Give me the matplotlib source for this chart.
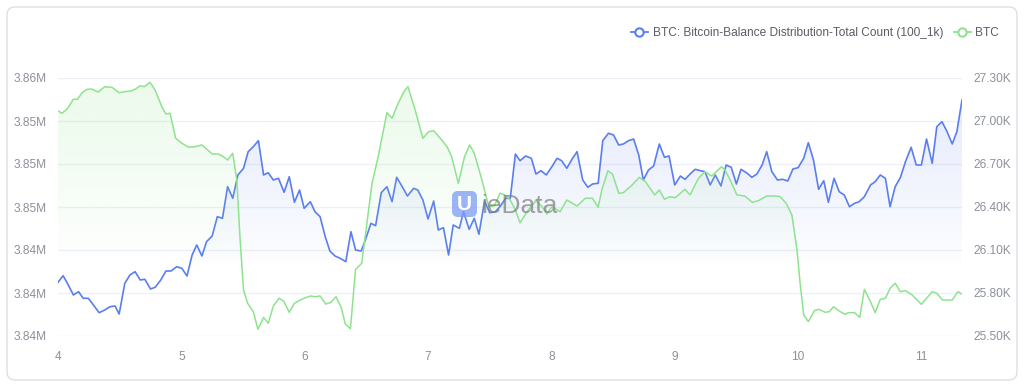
import numpy as np
import matplotlib.pyplot as plt
import matplotlib.colors as mcolors
from matplotlib.patches import FancyBboxPatch, Polygon
from matplotlib.lines import Line2D
from matplotlib.transforms import IdentityTransform

plt.rcParams['font.family'] = ['Liberation Sans', 'DejaVu Sans']

# hours after day 4 00:00
green_hours = [0.0, 0.8, 1.9, 3.0, 3.8, 4.7, 5.6, 6.6, 7.8, 9.1,
               10.5, 11.9, 13.0, 14.2, 15.0, 16.0, 16.8, 17.9, 18.9, 20.2,
               21.0, 21.8, 22.9, 24.1, 25.4, 26.7, 28.0, 30.0, 31.1, 32.0,
               33.0, 34.0, 34.8, 35.4, 36.1, 36.9, 38.0, 38.9, 40.0, 40.9,
               41.9, 43.0, 43.9, 45.0, 46.0, 47.4, 49.1, 50.0, 51.0, 52.1,
               53.1, 54.1, 55.1, 55.9, 56.9, 57.9, 59.1, 60.1, 61.1, 62.3,
               64.0, 65.0, 66.2, 67.4, 68.1, 69.5, 71.0, 72.1, 73.1, 74.4,
               75.7, 76.6, 77.9, 79.1, 80.1, 81.0, 82.5, 83.8, 84.9, 86.0,
               87.0, 88.0, 89.0, 89.9, 91.5, 93.0, 94.2, 95.1, 96.1, 97.7,
               99.0, 101.0, 102.6, 104.0, 105.1, 105.9, 107.0, 107.9, 109.1, 110.0,
               111.7, 113.1, 114.3, 116.1, 117.0, 118.0, 119.1, 120.1, 122.0, 123.0,
               124.6, 125.9, 127.2, 129.1, 129.8, 130.8, 132.1, 133.6, 135.1, 136.3,
               137.9, 139.6, 140.5, 141.7, 142.8, 143.8, 144.4, 145.1, 146.0, 147.2,
               148.0, 149.3, 150.1, 150.9, 151.9, 153.1, 153.8, 155.0, 156.0, 156.9,
               158.1, 159.0, 160.0, 161.0, 161.9, 162.9, 163.9, 164.9, 166.2, 168.0,
               170.1, 171.0, 172.1, 174.0, 175.1, 175.9]
btc_price = [27070, 27054, 27089, 27152, 27152, 27198, 27221, 27223, 27202, 27239,
             27235, 27198, 27205, 27209, 27221, 27246, 27239, 27270, 27216, 27100,
             27049, 27054, 26879, 26845, 26817, 26821, 26833, 26770, 26770, 26756,
             26728, 26775, 26588, 26193, 25821, 25728, 25670, 25547, 25630, 25589,
             25709, 25763, 25744, 25665, 25728, 25756, 25779, 25774, 25779, 25723,
             25735, 25774, 25700, 25584, 25551, 25965, 26007, 26286, 26565, 26751,
             27058, 27019, 27124, 27211, 27239, 27077, 26879, 26925, 26932, 26879,
             26821, 26751, 26565, 26751, 26833, 26775, 26588, 26402, 26407, 26496,
             26484, 26449, 26379, 26290, 26379, 26444, 26402, 26351, 26402, 26367,
             26449, 26407, 26461, 26461, 26398, 26530, 26653, 26630, 26496, 26500,
             26553, 26607, 26577, 26484, 26519, 26454, 26472, 26465, 26524, 26484,
             26600, 26646, 26616, 26681, 26658, 26588, 26484, 26477, 26433, 26444,
             26477, 26477, 26472, 26426, 26344, 26100, 25868, 25647, 25600, 25677,
             25686, 25665, 25670, 25704, 25677, 25651, 25663, 25663, 25630, 25826,
             25739, 25663, 25756, 25763, 25833, 25868, 25809, 25816, 25786, 25721,
             25809, 25798, 25751, 25751, 25809, 25793]

blue_hours = [0.0, 1.0, 2.0, 3.0, 4.0, 4.9, 5.9, 6.9, 8.0, 9.1,
              10.1, 11.1, 11.9, 13.0, 14.0, 15.0, 16.0, 16.9, 18.0, 18.9,
              20.0, 21.0, 22.0, 23.1, 24.1, 25.1, 26.1, 27.0, 28.0, 28.9,
              30.0, 31.0, 32.0, 33.0, 34.0, 35.0, 36.1, 37.0, 38.0, 39.0,
              40.0, 40.9, 41.9, 42.9, 44.0, 45.0, 46.0, 47.0, 47.9, 49.1,
              50.0, 51.0, 52.0, 52.9, 53.9, 54.9, 56.0, 57.0, 57.9, 59.0,
              59.8, 60.9, 61.8, 62.9, 64.0, 65.0, 65.9, 66.9, 68.0, 69.2,
              70.0, 71.0, 72.0, 73.1, 74.0, 75.0, 76.0, 76.9, 78.1, 78.9,
              80.0, 81.0, 81.9, 83.0, 84.0, 85.1, 86.1, 87.1, 88.0, 89.0,
              89.9, 91.0, 92.1, 93.0, 94.0, 95.0, 96.1, 97.1, 98.0, 99.0,
              100.0, 101.0, 102.1, 103.1, 104.0, 105.1, 106.0, 107.1, 108.1, 109.1,
              110.0, 111.0, 112.0, 113.0, 113.9, 114.9, 115.9, 117.0, 118.0, 118.9,
              120.0, 121.1, 122.0, 123.0, 124.0, 125.0, 125.9, 126.9, 127.9, 129.0,
              130.0, 131.0, 132.0, 132.9, 134.1, 135.0, 136.0, 137.0, 137.9, 138.9,
              140.0, 141.0, 142.0, 143.0, 144.0, 145.1, 146.0, 147.0, 148.0, 149.0,
              149.9, 151.0, 152.0, 153.0, 154.0, 155.0, 155.9, 156.9, 158.1, 159.0,
              160.0, 161.0, 161.9, 162.9, 163.9, 164.9, 166.0, 167.0, 168.0, 169.0,
              170.1, 171.0, 172.0, 173.0, 174.0, 174.9, 175.9]
total_count = [3842247, 3842707, 3842058, 3841361, 3841591, 3841130, 3841130, 3840663, 3840126, 3840314,
               3840544, 3840593, 3840035, 3842177, 3842756, 3842986, 3842407, 3842456, 3841779, 3841898,
               3842407, 3843035, 3843035, 3843335, 3843223, 3842686, 3844151, 3844849, 3844082, 3845079,
               3845477, 3846824, 3846712, 3848917, 3848107, 3849733, 3850200, 3851359, 3851708, 3852126,
               3849733, 3849893, 3849384, 3849503, 3848526, 3849614, 3847828, 3848686, 3847410, 3847870,
               3847172, 3846824, 3845428, 3844430, 3844082, 3843921, 3843684, 3845777, 3844500, 3844430,
               3845198, 3846363, 3846196, 3848498, 3848917, 3847870, 3849572, 3848966, 3848268, 3848805,
               3848686, 3847989, 3846663, 3847919, 3845896, 3846056, 3844151, 3846245, 3846014, 3847172,
               3845945, 3846712, 3845596, 3847919, 3847103, 3847172, 3847570, 3848107, 3848107, 3851198,
               3850731, 3851059, 3850898, 3849803, 3850033, 3849733, 3850312, 3850898, 3850731, 3850200,
               3850828, 3851359, 3849384, 3848875, 3849105, 3849154, 3852126, 3852642, 3852524, 3851826,
               3851896, 3852126, 3852245, 3851128, 3849384, 3850082, 3850361, 3851896, 3850968, 3851059,
               3849035, 3849663, 3849433, 3849803, 3850131, 3850033, 3849963, 3849035, 3849733, 3848966,
               3850431, 3850270, 3849105, 3850131, 3849852, 3849572, 3849803, 3850431, 3851359, 3849963,
               3849384, 3849433, 3849314, 3850152, 3850242, 3850898, 3851987, 3850780, 3848735, 3849335,
               3847828, 3849503, 3848568, 3848338, 3847521, 3847758, 3847870, 3848219, 3849035, 3849265,
               3849733, 3849503, 3847521, 3848917, 3849545, 3850661, 3851666, 3850431, 3850431, 3852245,
               3850549, 3853103, 3853452, 3852754, 3851896, 3852754, 3854966]

day_ticks = [4, 5, 6, 7, 8, 9, 10, 11]
left_ticks = [3838500, 3841500, 3844500, 3847500, 3850500, 3853500, 3856500]
right_ticks = [25500, 25800, 26100, 26400, 26700, 27000, 27300]
labels = ['BTC: Bitcoin-Balance Distribution-Total Count (100_1k)', 'BTC']

BLUE = '#5a7ef0'
GREEN = '#8ee38e'
TXT = '#8c9099'
W, H = 1024, 387


def gradient_fill(axis, x, y, color, base, top_alpha, z):
    x = np.asarray(x)
    y = np.asarray(y, dtype=float)
    img = np.zeros((256, 1, 4))
    img[:, :, :3] = mcolors.to_rgb(color)
    t = np.linspace(0, 1, 256)
    # fades out well before the bottom of the plot
    img[:, 0, 3] = top_alpha * np.clip((t - 0.3) / 0.7, 0, 1) ** 0.8
    im = axis.imshow(img, extent=[x[0], x[-1], base, y.max()], origin='lower',
                     aspect='auto', zorder=z, interpolation='bilinear')
    verts = np.vstack([[x[0], base], np.column_stack([x, y]), [x[-1], base]])
    clip = Polygon(verts, closed=True, transform=axis.transData,
                   facecolor='none', edgecolor='none')
    axis.add_patch(clip)
    im.set_clip_path(clip)


fig = plt.figure(figsize=(10.24, 3.87), dpi=100)
card = FancyBboxPatch((7, 7), 1010, 373, boxstyle='round,pad=0,rounding_size=8',
                      transform=IdentityTransform(), fc='white', ec='#dcdfe6', lw=1, zorder=-5)
fig.patches.append(card)

ax = fig.add_axes([58 / W, 1 - 336 / H, 904 / W, 258 / H])
ax.patch.set_alpha(0)
ax2 = ax.twinx()

xb = 4 + np.array(blue_hours) / 24
xg = 4 + np.array(green_hours) / 24

gradient_fill(ax, xb, total_count, BLUE, left_ticks[0], 0.15, 1)
ax.plot(xb, total_count, color=BLUE, lw=1.2, zorder=3)
gradient_fill(ax2, xg, btc_price, GREEN, right_ticks[0], 0.17, 1)
ax2.plot(xg, btc_price, color=GREEN, lw=1.1, zorder=3)

ax.set_xlim(4, max(xb[-1], xg[-1]))
ax.set_ylim(left_ticks[0], left_ticks[-1])
ax2.set_ylim(right_ticks[0], right_ticks[-1])

ax.set_xticks(day_ticks)
ax.set_xticklabels([str(d) for d in day_ticks])
ax.set_yticks(left_ticks)
ax.set_yticklabels(['%.2fM' % (v / 1e6) for v in left_ticks])
ax2.set_yticks(right_ticks)
ax2.set_yticklabels(['%.2fK' % (v / 1e3) for v in right_ticks])

ax.yaxis.grid(True, color='#edf0f7', lw=1)
ax.set_axisbelow(True)
for a in (ax, ax2):
    for s in a.spines.values():
        s.set_visible(False)
ax.tick_params(axis='y', length=0, pad=8, labelsize=8.6, labelcolor=TXT)
ax.tick_params(axis='x', length=0, pad=11, labelsize=8.6, labelcolor=TXT)
ax2.tick_params(axis='y', length=0, pad=8, labelsize=8.6, labelcolor=TXT)

handles = [Line2D([], [], color=BLUE, lw=1.3, marker='o', ms=6, mfc='white', mec=BLUE, mew=1.5),
           Line2D([], [], color=GREEN, lw=1.3, marker='o', ms=6, mfc='white', mec=GREEN, mew=1.5)]
fig.legend(handles, labels, loc='center right', bbox_to_anchor=(1010 / W, 1 - 33 / H), ncol=2,
           frameon=False, fontsize=8.6, handlelength=1.4, handletextpad=0.4, columnspacing=0.9,
           labelcolor='#5a5d66')

# watermark
icon = FancyBboxPatch((452, H - 217), 25, 26, boxstyle='round,pad=0,rounding_size=6',
                      transform=IdentityTransform(), fc='#7d9cf4', ec='none', alpha=0.75, zorder=6)
fig.patches.append(icon)
fig.text(464.5 / W, 1 - 205 / H, 'U', color='white', fontsize=15, fontweight='bold',
         ha='center', va='center', zorder=7)
fig.text(481 / W, 1 - 206 / H, 'ieData', color='#7a7a7a', alpha=0.7, fontsize=19,
         ha='left', va='center', zorder=7)

fig.savefig('out.png', dpi=100)
